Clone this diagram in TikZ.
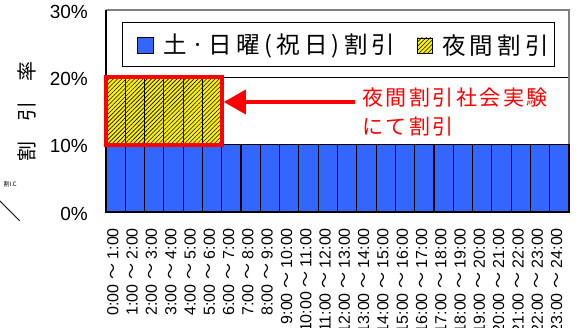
\documentclass[tikz,border=0pt]{standalone}
\usepackage{fontspec}
\setmainfont{Liberation Sans}
\newfontfamily\jpfont{Noto Sans CJK JP}
\newfontfamily\jpwide[LetterSpace=12]{Noto Sans CJK JP}
\newfontfamily\jplegend[LetterSpace=18]{Noto Sans CJK JP}
\usetikzlibrary{positioning,arrows.meta,patterns.meta}
\definecolor{barblue}{RGB}{51,102,255}
\definecolor{framegray}{RGB}{128,128,128}
\tikzset{
  bluebar/.style={fill=barblue, draw=black, line width=1.1pt},
  nightbar/.style={preaction={fill=yellow}, draw=black, line width=1.2pt,
                   pattern={Lines[angle=45,distance=3pt,line width=0.6pt]}, pattern color=black},
  hourlabel/.style={rotate=90, anchor=east, inner sep=0pt, font=\fontsize{16}{16}\selectfont,
                    text height=11.5pt, text depth=0pt},
  ticklabel/.style={anchor=east, inner sep=0pt, font=\fontsize{19}{19}\selectfont},
  legtext/.style={inner sep=0pt, font=\jplegend\fontsize{23.5}{23.5}\selectfont},
  redbox/.style={draw=red, line width=4pt, inner sep=0pt},
}
\begin{document}
\begin{tikzpicture}[x=1pt, y=-1pt, >={Triangle[length=22pt,width=24pt]}, line cap=butt]
\useasboundingbox (0,0) rectangle (581,328);
\pgfmathsetmacro{\xo}{106}
\pgfmathsetmacro{\yo}{212}
\pgfmathsetmacro{\bw}{463/24}
\pgfmathsetmacro{\dy}{202/30}

%grid and frame
\draw [black, line width=0.8pt] (\xo,{\yo-20*\dy}) -- (569,{\yo-20*\dy});
\draw [framegray, line width=1.2pt] (\xo,10) -- (569,10) -- (569,\yo);
\draw [black, line width=1.5pt] (\xo,10) -- (\xo,\yo);

%bars
\foreach \i [evaluate={\xa=\xo+\i*\bw; \xb=\xa+\bw; \xc=\xa+0.5*\bw-3; \j=int(\i+1);}] in {0,...,23}{
    \draw [bluebar] (\xa,\yo) rectangle (\xb,{\yo-10*\dy});
    \ifnum\i<6
        \draw [nightbar] (\xa,{\yo-10*\dy}) rectangle (\xb,{\yo-20*\dy});
    \fi
    \node [hourlabel] (h\i) at (\xc,228) {\i:00 {\jpfont ～} \j:00};
}

%y axis
\foreach \v in {0,10,20,30}
    \node [ticklabel] (y\v) at (88,{\yo-\v*\dy+1.5}) {\v\%};
\node [rotate=90, inner sep=0pt, font=\jpfont\fontsize{20}{20}\selectfont] (ytitle) at (27,111.5) {割　引　率};
\node [rotate=90, inner sep=0pt, font=\jpfont\fontsize{24}{24}\selectfont] (yslash) at (9,211) {／};
\node [anchor=east, inner sep=0pt, font=\jpfont\fontsize{6}{6}\selectfont] (ysub) at (17,184) {割I.C};

%legend
\draw [black, fill=white, line width=1pt] (122,22.7) rectangle (554,66.7);
\node [fill=barblue, draw=black, line width=0.8pt, minimum size=16pt, inner sep=0pt] (legblue) at (145,45.5) {};
\node [legtext, right=10pt of legblue] (legbluetext) {土·日曜(祝日)割引};
\node [nightbar, line width=0.8pt, minimum size=15pt, inner sep=0pt] (legnight) at (425,45.5) {};
\node [legtext, right=9pt of legnight] (legnighttext) {夜間割引};

%night box and note
\node [redbox, minimum width=\bw*6, minimum height=10*\dy] (nightbox) at ({\xo+3*\bw},{\yo-15*\dy}) {};
\node [anchor=north west, align=left, inner sep=0pt, text=red,
       font=\jpwide\fontsize{21}{29}\selectfont] (nightnote) at (362,88) {夜間割引社会実験\\にて割引};
\coordinate (notearrow) at (355,102);
\draw [red, line width=3.5pt, ->] (notearrow) -- (notearrow -| nightbox.east);
\end{tikzpicture}
\end{document}
